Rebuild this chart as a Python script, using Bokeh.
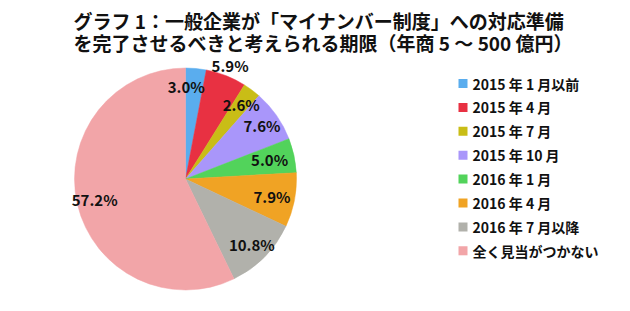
import numpy as np
from bokeh.plotting import figure
from bokeh.models import Range1d, ColumnDataSource
from bokeh.core.properties import value
from bokeh.embed import file_html
from bokeh.resources import INLINE

title_lines = ["グラフ 1：一般企業が「マイナンバー制度」への対応準備",
               "を完了させるべきと考えられる期限（年商 5 ～ 500 億円）"]
categories = ["2015 年 1 月以前", "2015 年 4 月", "2015 年 7 月", "2015 年 10 月",
              "2016 年 1 月", "2016 年 4 月", "2016 年 7 月以降", "全く見当がつかない"]
shares = [3.0, 5.9, 2.6, 7.6, 5.0, 7.9, 10.8, 57.2]
colors = ["#5aadee", "#e83142", "#c9bd16", "#a996fa", "#52d35b", "#f0a324", "#b1b1ab", "#f2a5a8"]

W, H = 630, 311
FONT = "Noto Sans CJK JP"

p = figure(width=W, height=H, output_backend="svg", toolbar_location=None,
           x_range=Range1d(0, W), y_range=Range1d(H, 0), min_border=0)
p.axis.visible = False
p.grid.visible = False
p.outline_line_color = None
p.background_fill_color = "white"

# Pie: angles are screen-oriented (counterclockwise, 0 = right), start at top, go clockwise
cx, cy, R = 185, 178.5, 111
vals = np.array(shares)
frac = vals / vals.sum()
ends = np.cumsum(frac)
starts = ends - frac
start_ang = np.pi / 2 - starts * 2 * np.pi
end_ang = np.pi / 2 - ends * 2 * np.pi
src = ColumnDataSource(dict(start=start_ang, end=end_ang, color=colors))
p.wedge(x=cx, y=cy, radius=R, start_angle="start", end_angle="end",
        direction="clock", fill_color="color", line_color="color",
        line_width=0.5, source=src)

# Slice labels (data space: y grows downward)
mid = -np.pi / 2 + (starts + ends) / 2 * 2 * np.pi
rad = np.full(len(shares), 0.84 * R)
rad[1] = 1.1 * R  # small 5.9% label pushed outward
lx = cx + rad * np.cos(mid)
ly = cy + rad * np.sin(mid)
lx[0] -= 8
lx[4] -= 7
lx[5] -= 5
labels = [f"{v:.1f}%" for v in shares]
p.text(x=lx, y=ly, text=labels, text_font=value(FONT), text_font_style="bold",
       text_font_size="15px", text_align="center", text_baseline="middle",
       text_color="#111111")

# Title
p.text(x=[73, 73], y=[20, 42], text=title_lines, text_font=value(FONT),
       text_font_style="bold", text_font_size="19px", text_align="left",
       text_baseline="middle", text_color="#111111")

# Legend
ly0, dy = 83, 23.9
rows = [ly0 + i * dy for i in range(len(categories))]
p.rect(x=[462.5] * len(categories), y=rows, width=9, height=9,
       fill_color=colors, line_color=None)
p.text(x=[472] * len(categories), y=rows, text=categories, text_font=value(FONT),
       text_font_style="bold", text_font_size="14px", text_align="left",
       text_baseline="middle", text_color="#111111")

open("out.html", "w").write(file_html(p, INLINE))
